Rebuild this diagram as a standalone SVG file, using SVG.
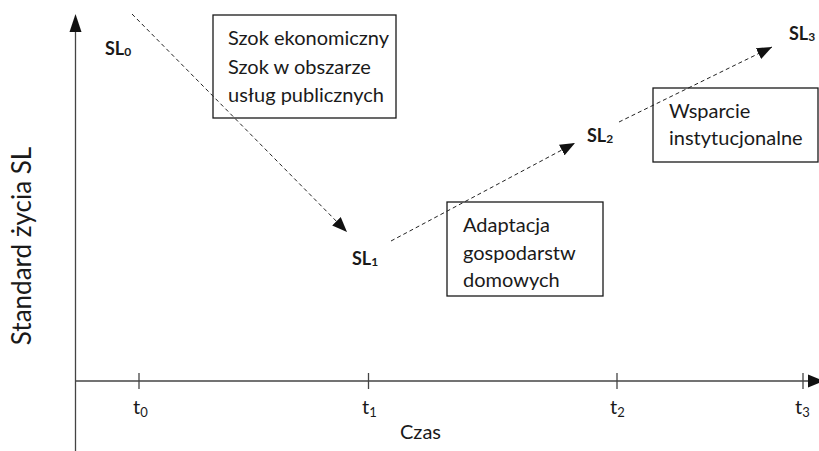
<svg xmlns="http://www.w3.org/2000/svg" width="819" height="451" viewBox="0 0 819 451">
<style>
.t{font-family:Lato,"Open Sans","Liberation Sans",sans-serif;font-size:20px;fill:#1a1a1a}
.sl{font-family:Lato,"Open Sans","Liberation Sans",sans-serif;font-size:18px;font-weight:bold;fill:#1a1a1a}
.box{fill:#fff;stroke:#1a1a1a;stroke-width:1.3}
.axis{stroke:#444;stroke-width:1.3;fill:none}
.dash{stroke:#222;stroke-width:1;stroke-dasharray:4 3;fill:none}
.head{fill:#111}
</style>
<defs>
<marker id="ah" viewBox="0 0 15 12" refX="15" refY="6" markerWidth="15" markerHeight="12" markerUnits="userSpaceOnUse" orient="auto"><path d="M0,0 L15,6 L0,12 z" class="head"/></marker>
</defs>
<g id="axes">
<line class="axis" x1="75.5" y1="451" x2="75.5" y2="28"/>
<path class="head" d="M69.5,32 L75.5,14 L81.5,32 z"/>
<line class="axis" x1="75" y1="381" x2="810" y2="381"/>
<path class="head" d="M808,374.5 L824,381 L808,387.5 z"/>
<line class="axis" x1="139" y1="373" x2="139" y2="389"/>
<line class="axis" x1="368.5" y1="373" x2="368.5" y2="389"/>
<line class="axis" x1="617" y1="373" x2="617" y2="389"/>
<line class="axis" x1="803" y1="373" x2="803" y2="389"/>
<text class="t" x="133" y="414">t<tspan font-size="13" dy="3">0</tspan></text>
<text class="t" x="362" y="414">t<tspan font-size="13" dy="3">1</tspan></text>
<text class="t" x="610" y="414">t<tspan font-size="13" dy="3">2</tspan></text>
<text class="t" x="795" y="414">t<tspan font-size="13" dy="3">3</tspan></text>
<text class="t" x="400" y="439">Czas</text>
<text class="t" transform="translate(31,246) rotate(-90)" text-anchor="middle" style="font-size:26px">Standard życia SL</text>
</g>
<g id="box-shock">
<rect class="box" x="213" y="15" width="183" height="103"/>
<text class="t" x="228" y="45">Szok ekonomiczny</text>
<text class="t" x="228" y="74">Szok w obszarze</text>
<text class="t" x="228" y="102">usług publicznych</text>
</g>
<g id="box-adapt">
<rect class="box" x="447" y="202" width="156" height="94"/>
<text class="t" x="463" y="232">Adaptacja</text>
<text class="t" x="463" y="260">gospodarstw</text>
<text class="t" x="463" y="287">domowych</text>
</g>
<g id="box-support">
<rect class="box" x="653" y="88" width="165" height="74"/>
<text class="t" x="669" y="118">Wsparcie</text>
<text class="t" x="669" y="145">instytucjonalne</text>
</g>
<g id="connectors">
<line class="dash" x1="132" y1="14" x2="347" y2="232" marker-end="url(#ah)"/>
<line class="dash" x1="391" y1="241" x2="575" y2="143" marker-end="url(#ah)"/>
<line class="dash" x1="619" y1="122" x2="772" y2="47" marker-end="url(#ah)"/>
</g>
<g id="sl0"><text class="sl" x="105" y="55">SL<tspan font-size="12" dy="1">0</tspan></text></g>
<g id="sl1"><text class="sl" x="352" y="265">SL<tspan font-size="12" dy="1">1</tspan></text></g>
<g id="sl2"><text class="sl" x="587" y="142">SL<tspan font-size="12" dy="1">2</tspan></text></g>
<g id="sl3"><text class="sl" x="789" y="40">SL<tspan font-size="12" dy="1">3</tspan></text></g>
</svg>
